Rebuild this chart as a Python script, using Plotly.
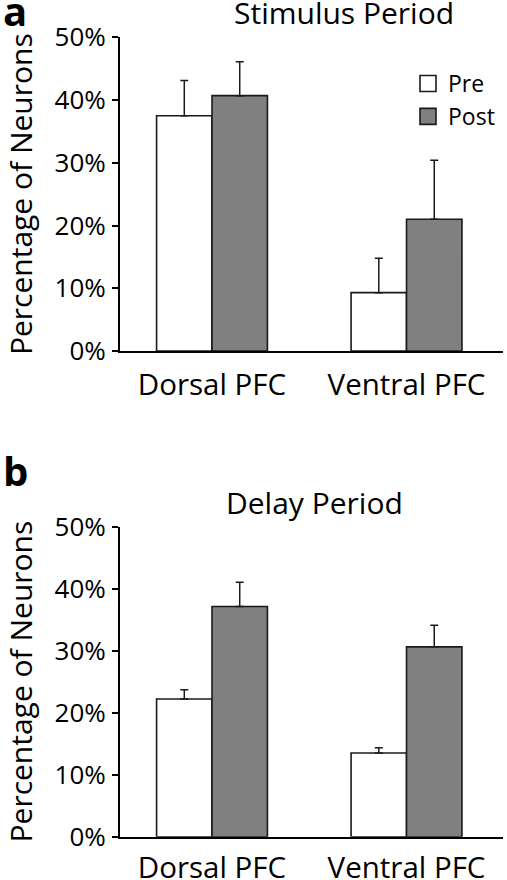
import plotly.graph_objects as go

regions = ["Dorsal PFC", "Ventral PFC"]
tick_vals = [0, 10, 20, 30, 40, 50]
tick_text = ["0%", "10%", "20%", "30%", "40%", "50%"]

stim_pre = [37.5, 9.3]
stim_pre_err = [5.6, 5.5]
stim_post = [40.7, 21.0]
stim_post_err = [5.4, 9.4]

delay_pre = [22.2, 13.5]
delay_pre_err = [1.5, 0.85]
delay_post = [37.1, 30.6]
delay_post_err = [3.9, 3.5]

FONT = "Open Sans"
EDGE = "#1a1a1a"
PRE_FILL = "#ffffff"
POST_FILL = "#808080"

W, H = 507, 880


def bar(name, y, err, fill, xa, ya):
    return go.Bar(
        name=name, x=regions, y=y,
        marker=dict(color=fill, line=dict(color=EDGE, width=1.6)),
        error_y=dict(type="data", symmetric=False, array=err,
                     arrayminus=[0] * len(err), color=EDGE,
                     thickness=1.5, width=4),
        xaxis=xa, yaxis=ya, showlegend=False, legendgroup=name,
    )


def legend_key(name, fill):
    return go.Scatter(
        name=name, x=[None], y=[None], mode="markers",
        marker=dict(symbol="square", size=18, color=fill,
                    line=dict(color=EDGE, width=1.6)),
        showlegend=True, legendgroup=name, hoverinfo="skip",
    )


fig = go.Figure()
fig.add_trace(bar("Pre", stim_pre, stim_pre_err, PRE_FILL, "x", "y"))
fig.add_trace(bar("Post", stim_post, stim_post_err, POST_FILL, "x", "y"))
fig.add_trace(bar("Pre", delay_pre, delay_pre_err, PRE_FILL, "x2", "y2"))
fig.add_trace(bar("Post", delay_post, delay_post_err, POST_FILL, "x2", "y2"))
fig.add_trace(legend_key("Pre", PRE_FILL))
fig.add_trace(legend_key("Post", POST_FILL))

xdom = [120 / W, 503 / W]
xr = [-0.473, 1.496]

xcommon = dict(
    range=xr, showline=True, linecolor="black", linewidth=2,
    ticks="", showgrid=False, zeroline=False, automargin=False,
    tickfont=dict(family=FONT, size=29.5, color="black"),
    fixedrange=True,
)
ycommon = dict(
    range=[0, 50], tickvals=tick_vals, ticktext=tick_text,
    showline=True, linecolor="black", linewidth=2,
    ticks="outside", ticklen=6, tickwidth=2, tickcolor="black",
    showgrid=False, zeroline=False, automargin=False,
    tickfont=dict(family=FONT, size=26, color="black"),
    ticklabelstandoff=1,
    title=dict(text="Percentage of Neurons",
               font=dict(family=FONT, size=30, color="black"), standoff=25),
    fixedrange=True,
)

fig.update_layout(
    template="none",
    width=W, height=H,
    margin=dict(l=0, r=0, t=0, b=0, autoexpand=False),
    paper_bgcolor="white", plot_bgcolor="white",
    barmode="group", bargap=0.43, bargroupgap=0,
    font=dict(family=FONT, color="black"),
    xaxis=dict(domain=xdom, anchor="y", ticklabelstandoff=7, **xcommon),
    yaxis=dict(domain=[1 - 351 / H, 1 - 37.3 / H], anchor="x", **ycommon),
    xaxis2=dict(domain=xdom, anchor="y2", ticklabelstandoff=4, **xcommon),
    yaxis2=dict(domain=[1 - 836.7 / H, 1 - 526.5 / H], anchor="x2", **ycommon),
    legend=dict(x=408 / W, y=1 - 62 / H, xanchor="left", yanchor="top",
                font=dict(family=FONT, size=23, color="black"),
                bgcolor="rgba(0,0,0,0)", tracegroupgap=0,
                itemclick=False, itemdoubleclick=False),
    annotations=[
        dict(text="Stimulus Period", x=343.5 / W, y=1 - 13 / H,
             xref="paper", yref="paper", showarrow=False,
             xanchor="center", yanchor="middle",
             font=dict(family=FONT, size=30, color="black")),
        dict(text="Delay Period", x=314 / W, y=1 - 502 / H,
             xref="paper", yref="paper", showarrow=False,
             xanchor="center", yanchor="middle",
             font=dict(family=FONT, size=30, color="black")),
        dict(text="<b>a</b>", x=1 / W, y=1 - 11 / H,
             xref="paper", yref="paper", showarrow=False,
             xanchor="left", yanchor="middle",
             font=dict(family=FONT, size=40, color="black")),
        dict(text="<b>b</b>", x=1 / W, y=1 - 470 / H,
             xref="paper", yref="paper", showarrow=False,
             xanchor="left", yanchor="middle",
             font=dict(family=FONT, size=40, color="black")),
    ],
)

fig.write_html(
    "out.html",
    config={"displayModeBar": False, "staticPlot": False},
    post_script="document.body.style.margin='0';document.body.style.overflow='hidden';",
)
